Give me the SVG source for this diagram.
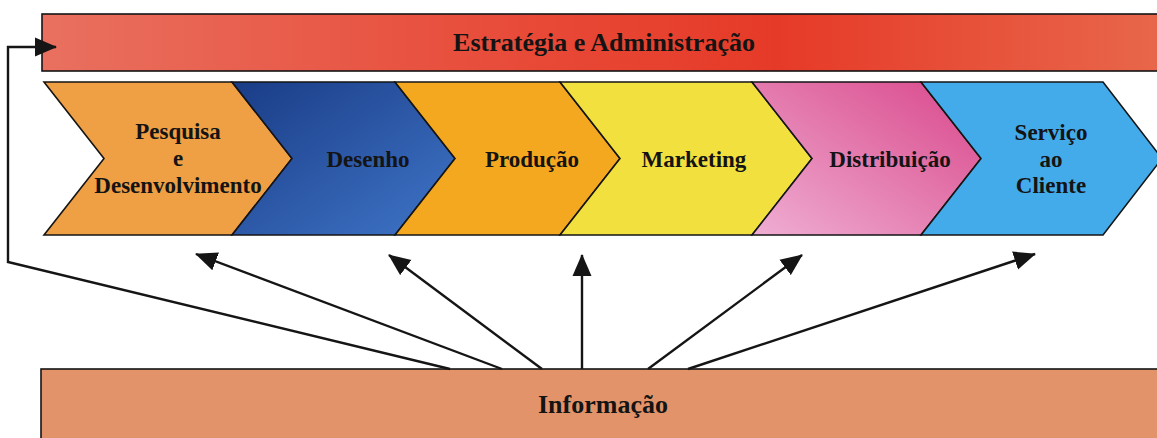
<svg xmlns="http://www.w3.org/2000/svg" width="1157" height="438" viewBox="0 0 1157 438">
  <style>
    .lbl { font-family: "Liberation Serif", "Times New Roman", serif; font-weight: bold; fill: #141414; text-anchor: middle; }
    .big { font-size: 26px; }
    .mid { font-size: 23px; }
    .edge { stroke: #151515; stroke-width: 1.6; stroke-linejoin: miter; }
    .conn { stroke: #151515; stroke-width: 2.4; fill: none; }
  </style>
  <defs>
    <linearGradient id="gRed" x1="0" y1="0" x2="1" y2="0">
      <stop offset="0" stop-color="#E9705F"/>
      <stop offset="0.45" stop-color="#E84836"/>
      <stop offset="0.65" stop-color="#E63A28"/>
      <stop offset="1" stop-color="#E8684C"/>
    </linearGradient>
    <linearGradient id="gNavy" x1="0" y1="0" x2="1" y2="1">
      <stop offset="0" stop-color="#1A3C86"/>
      <stop offset="1" stop-color="#3F75C8"/>
    </linearGradient>
    <linearGradient id="gPink" x1="1" y1="0" x2="0" y2="1">
      <stop offset="0" stop-color="#D9478A"/>
      <stop offset="1" stop-color="#EFAED3"/>
    </linearGradient>
    <marker id="ah" markerUnits="userSpaceOnUse" markerWidth="22" markerHeight="20" refX="21" refY="10" orient="auto">
      <path d="M0,0.5 L22,10 L0,19.5 Z" fill="#151515"/>
    </marker>
  </defs>

  <rect width="1157" height="438" fill="#FFFFFF"/>

  <g id="estrategia">
    <rect x="42" y="14" width="1130" height="57" fill="url(#gRed)" class="edge"/>
    <text x="604" y="51" class="lbl big">Estratégia e Administração</text>
  </g>

  <g id="pesquisa">
    <polygon points="44,82 232,82 292,158.5 232,235 44,235 104,158.5" fill="#EF9F44" class="edge"/>
    <text class="lbl mid" x="178" y="139">Pesquisa</text>
    <text class="lbl mid" x="178" y="166">e</text>
    <text class="lbl mid" x="178" y="193">Desenvolvimento</text>
  </g>
  <g id="desenho">
    <polygon points="232,82 395,82 455,158.5 395,235 232,235 292,158.5" fill="url(#gNavy)" class="edge"/>
    <text class="lbl mid" x="368" y="167">Desenho</text>
  </g>
  <g id="producao">
    <polygon points="395,82 560,82 620,158.5 560,235 395,235 455,158.5" fill="#F4A81F" class="edge"/>
    <text class="lbl mid" x="532" y="167">Produção</text>
  </g>
  <g id="marketing">
    <polygon points="560,82 752,82 812,158.5 752,235 560,235 620,158.5" fill="#F2E03E" class="edge"/>
    <text class="lbl mid" x="694" y="167">Marketing</text>
  </g>
  <g id="distribuicao">
    <polygon points="752,82 921,82 981,158.5 921,235 752,235 812,158.5" fill="url(#gPink)" class="edge"/>
    <text class="lbl mid" x="890" y="167">Distribuição</text>
  </g>
  <g id="servico">
    <polygon points="921,82 1103,82 1162,158.5 1103,235 921,235 981,158.5" fill="#44ABEA" class="edge"/>
    <text class="lbl mid" x="1051" y="140">Serviço</text>
    <text class="lbl mid" x="1051" y="167">ao</text>
    <text class="lbl mid" x="1051" y="193">Cliente</text>
  </g>

  <g id="informacao">
    <rect x="41" y="369" width="1130" height="80" fill="#E2936A" class="edge"/>
    <text class="lbl big" x="603" y="413">Informação</text>
  </g>

  <g id="connectors">
    <polyline class="conn" points="450,369 8,262 8,47 56,47" marker-end="url(#ah)"/>
    <line class="conn" x1="502" y1="369" x2="196" y2="254" marker-end="url(#ah)"/>
    <line class="conn" x1="542" y1="369" x2="389" y2="255" marker-end="url(#ah)"/>
    <line class="conn" x1="582" y1="369" x2="582" y2="255" marker-end="url(#ah)"/>
    <line class="conn" x1="648" y1="369" x2="802" y2="255" marker-end="url(#ah)"/>
    <line class="conn" x1="688" y1="369" x2="1035" y2="254" marker-end="url(#ah)"/>
  </g>
</svg>
